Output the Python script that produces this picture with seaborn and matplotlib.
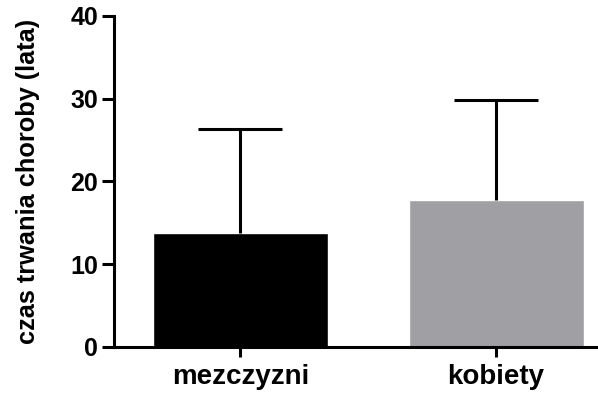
import matplotlib
matplotlib.use("Agg")
import matplotlib.pyplot as plt
import seaborn as sns
import pandas as pd

# Disease duration by sex: mean with upper SD whisker
groups = ["mezczyzni", "kobiety"]
means = [13.8, 17.8]
sd = [12.6, 12.0]
colors = ["#000000", "#a0a0a4"]
yticks = [0, 10, 20, 30, 40]

sns.set_theme(style="white")
plt.rcParams["font.family"] = ["Liberation Sans", "DejaVu Sans"]
plt.rcParams["font.weight"] = "bold"

df = pd.DataFrame({"grupa": groups, "czas": means})

fig = plt.figure(figsize=(5.98, 3.94), dpi=100)
ax = fig.add_axes([0.1906, 0.1193, 0.84, 0.8401])

sns.barplot(data=df, x="grupa", y="czas", hue="grupa", palette=colors,
            width=0.684, saturation=1, legend=False, ax=ax, errorbar=None)

# one-sided whiskers: keep only the upper cap
_, caps, _ = ax.errorbar(range(len(groups)), means, yerr=[[0] * len(sd), sd],
                         fmt="none", ecolor="black", elinewidth=2.2,
                         capsize=30, capthick=2.2, zorder=1)
caps[0].set_visible(False)

ax.set_ylim(0, 40)
ax.set_xlim(-0.494, 1.47)
ax.set_yticks(yticks)
ax.set_yticklabels([str(t) for t in yticks])
ax.set_xlabel("")
ax.set_ylabel("czas trwania choroby (lata)", fontsize=18.3, fontweight="bold",
              color="black")
ax.yaxis.set_label_coords(-0.147, 0.5)

for side in ["top", "right"]:
    ax.spines[side].set_visible(False)
for side in ["left", "bottom"]:
    ax.spines[side].set_linewidth(2.2)
    ax.spines[side].set_color("black")

ax.tick_params(axis="y", which="major", length=8.5, width=2.2, color="black",
               labelcolor="black", labelsize=18, pad=3, left=True)
ax.tick_params(axis="x", which="major", length=7.5, width=2.2, color="black",
               labelcolor="black", labelsize=20, pad=5, bottom=True)
for lbl in ax.get_xticklabels() + ax.get_yticklabels():
    lbl.set_fontweight("bold")

fig.savefig("out.png", dpi=100)
